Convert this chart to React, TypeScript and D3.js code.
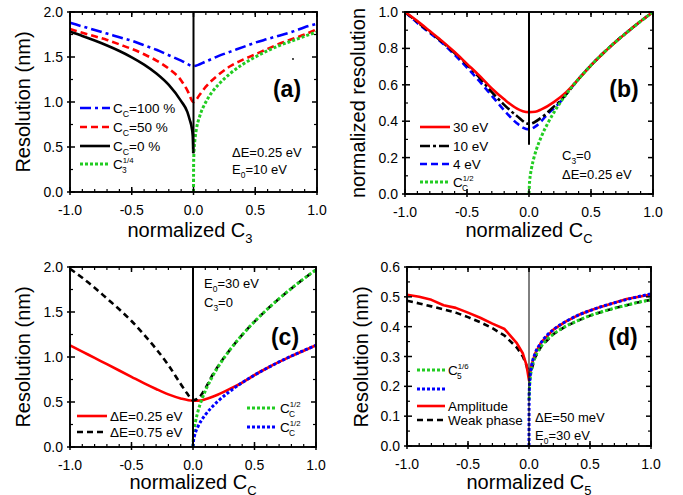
import React from "react";
import * as d3 from "d3";

const FONT = "'Liberation Sans', Arial, Helvetica, sans-serif";

// ---------- Panel (a) ----------
const aBlueX = [-1, -0.9, -0.8, -0.7, -0.6, -0.5, -0.4, -0.3, -0.2, -0.1, 0, 0.1, 0.2, 0.3, 0.4, 0.5, 0.6, 0.7, 0.8, 0.9, 1];
const aBlueY = [1.88, 1.84, 1.8, 1.76, 1.72, 1.68, 1.63, 1.58, 1.52, 1.46, 1.4, 1.45, 1.51, 1.56, 1.61, 1.66, 1.7, 1.74, 1.78, 1.83, 1.87];
const aRedX = [-1, -0.9, -0.8, -0.7, -0.6, -0.5, -0.4, -0.3, -0.2, -0.1, -0.05, 0, 0.05, 0.1, 0.2, 0.3, 0.4, 0.5, 0.6, 0.7, 0.8, 0.9, 1];
const aRedY = [1.81, 1.77, 1.73, 1.69, 1.64, 1.59, 1.53, 1.46, 1.37, 1.24, 1.13, 1.0, 1.08, 1.17, 1.3, 1.4, 1.47, 1.53, 1.59, 1.65, 1.7, 1.75, 1.81];
const aBlackX = [-1, -0.9, -0.8, -0.7, -0.6, -0.5, -0.4, -0.3, -0.2, -0.1, -0.05, -0.03, -0.015, -0.006, -0.002];
const aBlackY = [1.78, 1.734, 1.683, 1.628, 1.567, 1.497, 1.416, 1.317, 1.19, 1.01, 0.89, 0.8, 0.72, 0.62, 0.43];
const aGreenX = [0, 0.001, 0.003, 0.01, 0.02, 0.05, 0.1, 0.15, 0.2, 0.3, 0.4, 0.5, 0.6, 0.7, 0.8, 0.9, 1];
const aGreenY = [0, 0.32, 0.42, 0.56, 0.67, 0.84, 1.0, 1.11, 1.19, 1.32, 1.42, 1.5, 1.57, 1.63, 1.68, 1.73, 1.78];

// ---------- Panel (b) ----------
const bRedX = [-1, -0.9, -0.8, -0.7, -0.6, -0.5, -0.4, -0.3, -0.2, -0.1, -0.05, 0, 0.05, 0.1, 0.2, 0.3, 0.4, 0.5, 0.6, 0.7, 0.8, 0.9, 1];
const bRedY = [1.0, 0.95, 0.895, 0.84, 0.78, 0.715, 0.65, 0.58, 0.52, 0.47, 0.455, 0.45, 0.452, 0.465, 0.505, 0.56, 0.632, 0.707, 0.775, 0.837, 0.894, 0.949, 1.0];
const bBlackX = [-1, -0.9, -0.8, -0.7, -0.6, -0.5, -0.4, -0.3, -0.2, -0.1, 0, 0.1, 0.2, 0.25, 0.3, 0.4, 0.5, 0.6, 0.7, 0.8, 0.9, 1];
const bBlackY = [1.0, 0.945, 0.89, 0.835, 0.775, 0.71, 0.64, 0.56, 0.49, 0.43, 0.385, 0.42, 0.48, 0.51, 0.548, 0.632, 0.707, 0.775, 0.837, 0.894, 0.949, 1.0];
const bBlueX = [-1, -0.9, -0.8, -0.7, -0.6, -0.5, -0.4, -0.3, -0.2, -0.1, -0.05, 0, 0.05, 0.1, 0.15, 0.2, 0.25, 0.3, 0.4, 0.5, 0.6, 0.7, 0.8, 0.9, 1];
const bBlueY = [1.0, 0.94, 0.885, 0.83, 0.765, 0.695, 0.62, 0.54, 0.46, 0.39, 0.365, 0.355, 0.37, 0.4, 0.44, 0.47, 0.505, 0.548, 0.632, 0.707, 0.775, 0.837, 0.894, 0.949, 1.0];
const bGreenX = [0, 0.005, 0.01, 0.02, 0.04, 0.06, 0.1, 0.15, 0.2, 0.3, 0.4, 0.5, 0.6, 0.7, 0.8, 0.9, 1];
const bGreenY = [0, 0.071, 0.1, 0.141, 0.2, 0.245, 0.316, 0.387, 0.447, 0.548, 0.632, 0.707, 0.775, 0.837, 0.894, 0.949, 1.0];

// ---------- Panel (c) ----------
const cRedX = [-1, -0.9, -0.8, -0.7, -0.6, -0.5, -0.4, -0.3, -0.2, -0.1, 0, 0.05, 0.1, 0.2, 0.3, 0.38, 0.5, 0.6, 0.7, 0.8, 0.9, 1];
const cRedY = [1.13, 1.06, 0.99, 0.92, 0.85, 0.78, 0.71, 0.645, 0.585, 0.54, 0.515, 0.515, 0.53, 0.58, 0.645, 0.7, 0.8, 0.875, 0.945, 1.01, 1.07, 1.13];
const cBlackX = [-1, -0.9, -0.8, -0.7, -0.6, -0.5, -0.4, -0.3, -0.2, -0.1, -0.05, 0, 0.05, 0.1, 0.15, 0.2, 0.3, 0.4, 0.5, 0.6, 0.7, 0.8, 0.9, 1];
const cBlackY = [1.98, 1.88, 1.77, 1.65, 1.53, 1.4, 1.25, 1.09, 0.91, 0.7, 0.6, 0.52, 0.55, 0.65, 0.78, 0.89, 1.079, 1.246, 1.393, 1.526, 1.648, 1.762, 1.869, 1.97];
const cDotX = [0, 0.005, 0.01, 0.02, 0.04, 0.07, 0.1, 0.15, 0.2, 0.3, 0.4, 0.5, 0.6, 0.7, 0.8, 0.9, 1];
const cGreenY = [0, 0.139, 0.197, 0.279, 0.394, 0.521, 0.623, 0.763, 0.881, 1.079, 1.246, 1.393, 1.526, 1.648, 1.762, 1.869, 1.97];
const cBlueY = [0, 0.08, 0.113, 0.16, 0.226, 0.299, 0.357, 0.438, 0.505, 0.619, 0.715, 0.799, 0.875, 0.945, 1.011, 1.072, 1.13];

// ---------- Panel (d) ----------
const dRedX = [-1, -0.9, -0.8, -0.7, -0.6, -0.5, -0.4, -0.3, -0.2, -0.1, -0.05, -0.02, 0, 0.02, 0.05, 0.1, 0.2, 0.3, 0.4, 0.5, 0.6, 0.7, 0.8, 0.9, 1];
const dRedY = [0.507, 0.5, 0.49, 0.472, 0.463, 0.447, 0.43, 0.41, 0.392, 0.345, 0.31, 0.27, 0.22, 0.27, 0.31, 0.347, 0.39, 0.417, 0.438, 0.454, 0.468, 0.48, 0.493, 0.5, 0.508];
const dBlackX = [-1, -0.9, -0.8, -0.7, -0.6, -0.5, -0.4, -0.3, -0.2, -0.1, -0.05, -0.02, 0, 0.02, 0.05, 0.1, 0.2, 0.3, 0.4, 0.5, 0.6, 0.7, 0.8, 0.9, 1];
const dBlackY = [0.487, 0.478, 0.468, 0.458, 0.447, 0.432, 0.415, 0.395, 0.37, 0.33, 0.3, 0.27, 0.235, 0.255, 0.297, 0.334, 0.375, 0.401, 0.42, 0.437, 0.45, 0.462, 0.472, 0.482, 0.49];
const dGreenX = [0.001, 0.005, 0.01, 0.02, 0.05, 0.1, 0.2, 0.3, 0.4, 0.5, 0.6, 0.7, 0.8, 0.9, 1];
const dGreenY = [0.155, 0.203, 0.227, 0.255, 0.297, 0.334, 0.375, 0.401, 0.42, 0.437, 0.45, 0.462, 0.472, 0.482, 0.49];
const dBlueX = [0, 0.001, 0.005, 0.01, 0.02, 0.05, 0.1, 0.2, 0.3, 0.4, 0.5, 0.6, 0.7, 0.8, 0.9, 1];
const dBlueY = [0, 0.161, 0.211, 0.237, 0.266, 0.31, 0.347, 0.39, 0.417, 0.438, 0.454, 0.468, 0.48, 0.491, 0.501, 0.51];

const xMajor = [-1, -0.5, 0, 0.5, 1];
const xMinor = d3.range(-10, 11).map((i) => i / 10);

const zip = (xs: number[], ys: number[]) => xs.map((x, i) => [x, ys[i]] as [number, number]);

type Seg = { t?: string; sub?: string; sup?: string };

function Rich({ x, y, segs, size, anchor = "start", weight = "normal" }: any) {
  const parts: any[] = [];
  let off = 0;
  const subOff = size * 0.32;
  const supOff = -size * 0.42;
  (segs as Seg[]).forEach((s, i) => {
    if (s.sup && s.sub) {
      parts.push(
        <tspan key={i + "p"} dy={supOff - off} fontSize={size * 0.58}>
          {s.sup}
        </tspan>
      );
      const w = s.sup.length * size * 0.58 * 0.5;
      parts.push(
        <tspan key={i + "b"} dx={-w} dy={subOff - supOff} fontSize={size * 0.62}>
          {s.sub}
        </tspan>
      );
      off = subOff;
    } else if (s.sub) {
      parts.push(
        <tspan key={i + "s"} dy={subOff - off} fontSize={size * 0.65}>
          {s.sub}
        </tspan>
      );
      off = subOff;
    }
    if (s.t) {
      parts.push(
        <tspan key={i + "t"} dy={-off}>
          {s.t}
        </tspan>
      );
      off = 0;
    }
  });
  return (
    <text x={x} y={y} fontSize={size} fontFamily={FONT} textAnchor={anchor} fontWeight={weight} fill="#000">
      {parts}
    </text>
  );
}

const RED = "#ff0000";
const BLUE = "#0000ff";
const GREEN = "#22cc22";
const BLACK = "#000000";

type Style = { color: string; dash?: string; width: number };
const solid = (c: string): Style => ({ color: c, width: 2.6 });
const dotted = (c: string): Style => ({ color: c, dash: "3 2", width: 3 });
const dashed = (c: string): Style => ({ color: c, dash: "7 4", width: 2.6 });
const dashDot = (c: string): Style => ({ color: c, dash: "11 4 3 4", width: 2.6 });

function Panel({ box, yDomain, yMajor, yMinor, yFmt, series, vline, legend, children }: any) {
  const x = d3.scaleLinear([-1, 1], [box.l, box.r]);
  const y = d3.scaleLinear(yDomain, [box.b, box.t]);
  return (
    <g>
      {series.map((s: any, i: number) => {
        const line = d3
          .line<[number, number]>()
          .x((d) => x(d[0]))
          .y((d) => y(d[1]))
          .curve(s.linear ? d3.curveLinear : d3.curveMonotoneX);
        return (
          <path
            key={i}
            d={line(s.data) || ""}
            fill="none"
            stroke={s.style.color}
            strokeWidth={s.style.width}
            strokeDasharray={s.style.dash}
            strokeLinejoin="round"
          />
        );
      })}
      <line x1={x(0)} x2={x(0)} y1={y(vline.from)} y2={y(vline.to)} stroke="#000" strokeWidth={vline.w} />
      {/* frame */}
      <rect x={box.l} y={box.t} width={box.r - box.l} height={box.b - box.t} fill="none" stroke="#000" strokeWidth={1.9} />
      {xMinor.map((v: number, i: number) => (
        <g key={"xm" + i}>
          <line x1={x(v)} x2={x(v)} y1={box.b} y2={box.b - 3} stroke="#000" strokeWidth={1.2} />
          <line x1={x(v)} x2={x(v)} y1={box.t} y2={box.t + 3} stroke="#000" strokeWidth={1.2} />
        </g>
      ))}
      {xMajor.map((v: number, i: number) => (
        <g key={"xM" + i}>
          <line x1={x(v)} x2={x(v)} y1={box.b + 3} y2={box.b - 5} stroke="#000" strokeWidth={1.5} />
          <line x1={x(v)} x2={x(v)} y1={box.t} y2={box.t + 5} stroke="#000" strokeWidth={1.5} />
          <text x={x(v)} y={box.b + 23} fontSize={14} fontFamily={FONT} textAnchor="middle">
            {v.toFixed(1)}
          </text>
        </g>
      ))}
      {yMinor.map((v: number, i: number) => (
        <g key={"ym" + i}>
          <line x1={box.l} x2={box.l + 3} y1={y(v)} y2={y(v)} stroke="#000" strokeWidth={1.2} />
          <line x1={box.r} x2={box.r - 3} y1={y(v)} y2={y(v)} stroke="#000" strokeWidth={1.2} />
        </g>
      ))}
      {yMajor.map((v: number, i: number) => (
        <g key={"yM" + i}>
          <line x1={box.l - 3} x2={box.l + 5} y1={y(v)} y2={y(v)} stroke="#000" strokeWidth={1.5} />
          <line x1={box.r} x2={box.r - 5} y1={y(v)} y2={y(v)} stroke="#000" strokeWidth={1.5} />
          <text x={box.l - 7} y={y(v) + 5} fontSize={14} fontFamily={FONT} textAnchor="end">
            {v.toFixed(yFmt)}
          </text>
        </g>
      ))}
      {legend.items.map((it: any, i: number) => {
        const yy = legend.rows[i];
        return (
          <g key={"lg" + i}>
            <line
              x1={legend.x1}
              x2={legend.x2}
              y1={yy}
              y2={yy}
              stroke={it.style.color}
              strokeWidth={it.style.width}
              strokeDasharray={it.style.dash}
            />
            {it.segs && <Rich x={legend.x2 + 3} y={yy + 5} segs={it.segs} size={13.5} />}
          </g>
        );
      })}
      {children}
    </g>
  );
}

export default function App() {
  const W = 683;
  const H = 495;
  return (
    <svg width={W} height={H} style={{ position: "absolute", left: 0, top: 0, background: "#fff" }}>
      <rect width={W} height={H} fill="#fff" />
      {/* (a) */}
      <Panel
        box={{ l: 70, r: 317, t: 12, b: 192 }}
        yDomain={[0, 2]}
        yMajor={[0, 0.5, 1, 1.5, 2]}
        yMinor={[0.25, 0.75, 1.25, 1.75]}
        yFmt={1}
        vline={{ from: 0.43, to: 2, w: 2 }}
        series={[
          { data: zip(aBlueX, aBlueY), style: dashDot(BLUE) },
          { data: zip(aRedX, aRedY), style: dashed(RED) },
          { data: zip(aBlackX, aBlackY), style: solid(BLACK) },
          { data: zip(aGreenX, aGreenY), style: dotted(GREEN) },
        ]}
        legend={{
          x1: 80,
          x2: 110,
          rows: [108, 127, 146, 164],
          items: [
            { style: dashDot(BLUE), segs: [{ t: "C" }, { sub: "C", t: "=100 %" }] },
            { style: dashed(RED), segs: [{ t: "C" }, { sub: "C", t: "=50 %" }] },
            { style: solid(BLACK), segs: [{ t: "C" }, { sub: "C", t: "=0 %" }] },
            { style: dotted(GREEN), segs: [{ t: "C" }, { sub: "3", sup: "1/4" }] },
          ],
        }}
      >
        <text x={287} y={97} fontSize={23} fontWeight="bold" fontFamily={FONT} textAnchor="middle">(a)</text>
        <Rich x={232} y={157} size={13} segs={[{ t: "ΔE=0.25 eV" }]} />
        <Rich x={232} y={174} size={13} segs={[{ t: "E" }, { sub: "0", t: "=10 eV" }]} />
        <circle cx={293} cy={59} r={0.9} fill="#000" />
        <text transform="translate(30,102) rotate(-90)" fontSize={20} fontFamily={FONT} textAnchor="middle">Resolution (nm)</text>
        <Rich x={190} y={237} size={20} anchor="middle" segs={[{ t: "normalized C" }, { sub: "3" }]} />
      </Panel>

      {/* (b) */}
      <Panel
        box={{ l: 405, r: 653, t: 12, b: 194 }}
        yDomain={[0, 1]}
        yMajor={[0, 0.2, 0.4, 0.6, 0.8, 1]}
        yMinor={[0.1, 0.3, 0.5, 0.7, 0.9]}
        yFmt={1}
        vline={{ from: 0.27, to: 1, w: 2 }}
        series={[
          { data: zip(bBlueX, bBlueY), style: dashed(BLUE) },
          { data: zip(bBlackX, bBlackY), style: { color: BLACK, dash: "10 3 3 3", width: 2.6 } },
          { data: zip(bRedX, bRedY), style: solid(RED) },
          { data: zip(bGreenX, bGreenY), style: dotted(GREEN) },
        ]}
        legend={{
          x1: 420,
          x2: 450,
          rows: [127, 146, 164, 182],
          items: [
            { style: solid(RED), segs: [{ t: "30 eV" }] },
            { style: { color: BLACK, dash: "10 3 3 3", width: 2.6 }, segs: [{ t: "10 eV" }] },
            { style: dashed(BLUE), segs: [{ t: "4 eV" }] },
            { style: dotted(GREEN), segs: [{ t: "C" }, { sub: "C", sup: "1/2" }] },
          ],
        }}
      >
        <text x={624} y={97} fontSize={23} fontWeight="bold" fontFamily={FONT} textAnchor="middle">(b)</text>
        <Rich x={562} y={160} size={13} segs={[{ t: "C" }, { sub: "3", t: "=0" }]} />
        <Rich x={562} y={179} size={13} segs={[{ t: "ΔE=0.25 eV" }]} />
        <text transform="translate(365,103) rotate(-90)" fontSize={20} fontFamily={FONT} textAnchor="middle">normalized resolution</text>
        <Rich x={529} y={237} size={20} anchor="middle" segs={[{ t: "normalized C" }, { sub: "C" }]} />
      </Panel>

      {/* (c) */}
      <Panel
        box={{ l: 70, r: 316, t: 267, b: 447 }}
        yDomain={[0, 2]}
        yMajor={[0, 0.5, 1, 1.5, 2]}
        yMinor={[0.25, 0.75, 1.25, 1.75]}
        yFmt={1}
        vline={{ from: 0, to: 2, w: 2 }}
        series={[
          { data: zip(cRedX, cRedY), style: solid(RED) },
          { data: zip(cBlackX, cBlackY), style: { color: BLACK, dash: "6 4", width: 2.6 } },
          { data: zip(cDotX, cGreenY), style: dotted(GREEN) },
          { data: zip(cDotX, cBlueY), style: dotted(BLUE) },
        ]}
        legend={{
          x1: 77,
          x2: 107,
          rows: [416, 432],
          items: [
            { style: solid(RED), segs: [{ t: "ΔE=0.25 eV" }] },
            { style: { color: BLACK, dash: "6 4", width: 2.6 }, segs: [{ t: "ΔE=0.75 eV" }] },
          ],
        }}
      >
        <line x1={247} x2={277} y1={408} y2={408} stroke={GREEN} strokeWidth={3} strokeDasharray="3 2" />
        <Rich x={280} y={413} size={13.5} segs={[{ t: "C" }, { sub: "C", sup: "1/2" }]} />
        <line x1={247} x2={277} y1={427} y2={427} stroke={BLUE} strokeWidth={3} strokeDasharray="3 2" />
        <Rich x={280} y={432} size={13.5} segs={[{ t: "C" }, { sub: "C", sup: "1/2" }]} />
        <text x={285} y={345} fontSize={23} fontWeight="bold" fontFamily={FONT} textAnchor="middle">(c)</text>
        <Rich x={204} y={288} size={13} segs={[{ t: "E" }, { sub: "0", t: "=30 eV" }]} />
        <Rich x={204} y={307} size={13} segs={[{ t: "C" }, { sub: "3", t: "=0" }]} />
        <text transform="translate(30,357) rotate(-90)" fontSize={20} fontFamily={FONT} textAnchor="middle">Resolution (nm)</text>
        <Rich x={193} y={489} size={20} anchor="middle" segs={[{ t: "normalized C" }, { sub: "C" }]} />
      </Panel>

      {/* (d) */}
      <Panel
        box={{ l: 407, r: 651, t: 267, b: 446 }}
        yDomain={[0, 0.6]}
        yMajor={[0, 0.1, 0.2, 0.3, 0.4, 0.5, 0.6]}
        yMinor={[0.05, 0.15, 0.25, 0.35, 0.45, 0.55]}
        yFmt={1}
        vline={{ from: 0, to: 0.6, w: 1 }}
        series={[
          { data: zip(dBlackX, dBlackY), style: { color: BLACK, dash: "6 4", width: 2.6 }, linear: true },
          { data: zip(dRedX, dRedY), style: solid(RED), linear: true },
          { data: zip(dGreenX, dGreenY), style: dotted(GREEN) },
          { data: zip(dBlueX, dBlueY), style: dotted(BLUE) },
        ]}
        legend={{
          x1: 417,
          x2: 445,
          rows: [370, 389, 406, 420],
          items: [
            { style: dotted(GREEN), segs: [{ t: "C" }, { sub: "5", sup: "1/6" }] },
            { style: dotted(BLUE) },
            { style: solid(RED), segs: [{ t: "Amplitude" }] },
            { style: { color: BLACK, dash: "6 4", width: 2.6 }, segs: [{ t: "Weak phase" }] },
          ],
        }}
      >
        <text x={623} y={345} fontSize={23} fontWeight="bold" fontFamily={FONT} textAnchor="middle">(d)</text>
        <Rich x={535} y={422} size={13} segs={[{ t: "ΔE=50 meV" }]} />
        <Rich x={535} y={440} size={13} segs={[{ t: "E" }, { sub: "0", t: "=30 eV" }]} />
        <text transform="translate(368,357) rotate(-90)" fontSize={20} fontFamily={FONT} textAnchor="middle">Resolution (nm)</text>
        <Rich x={529} y={489} size={20} anchor="middle" segs={[{ t: "normalized C" }, { sub: "5" }]} />
      </Panel>
    </svg>
  );
}
